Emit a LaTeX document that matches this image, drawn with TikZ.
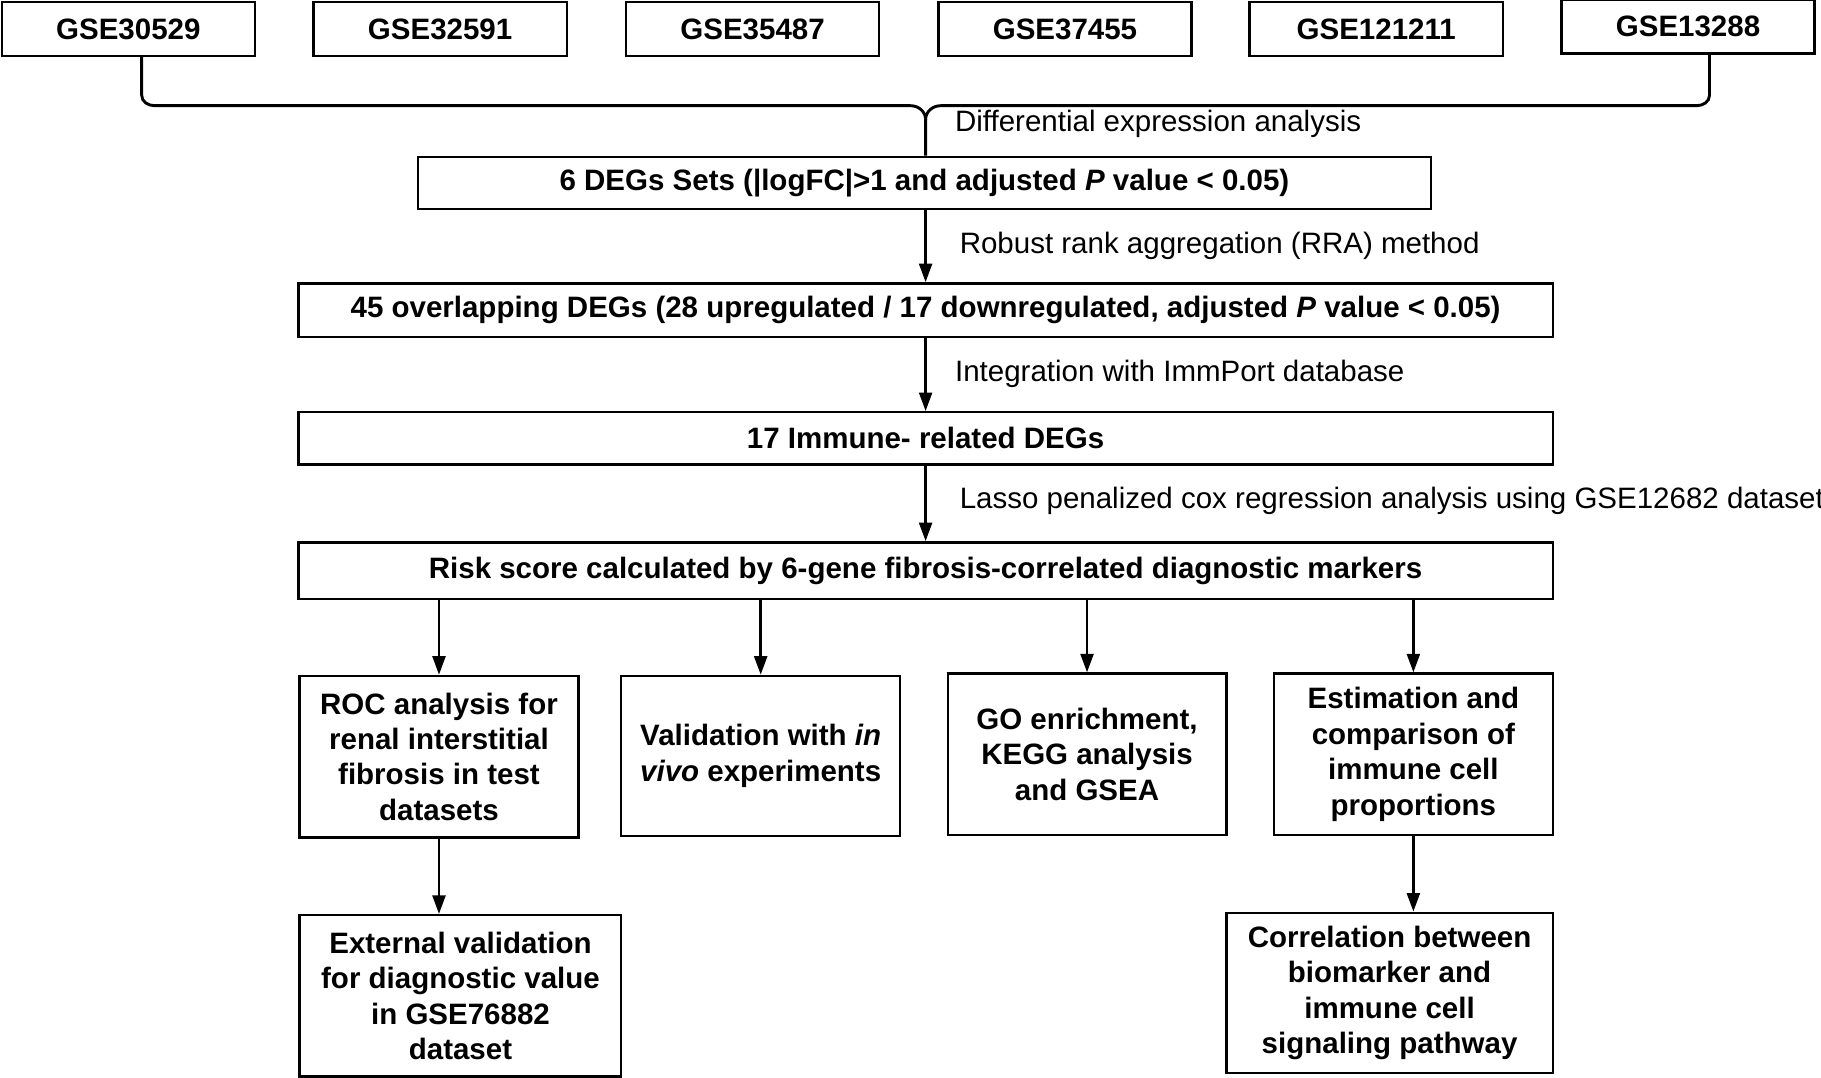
\documentclass[tikz,border=0pt]{standalone}
\usepackage{fontspec}
\setmainfont{Liberation Sans}
\usetikzlibrary{arrows.meta,calc}
\begin{document}
\begin{tikzpicture}[x=0.5pt,y=-0.5pt,
  box/.style={draw=black,line width=1pt,inner sep=0pt,align=center,font=\fontsize{12.7}{15.25}\selectfont\bfseries},
  lbl/.style={anchor=west,inner sep=0pt,font=\fontsize{12.7}{14}\selectfont},
  arr/.style={line width=1.25pt,-{Triangle[length=8pt,width=5.5pt]}},
  brace/.style={line width=1.25pt}]
\useasboundingbox (0,0) rectangle (1568,928);
% top boxes
\node[box,minimum width=109pt,minimum height=23pt] (g1) at (110.5,25) {GSE30529};
\node[box,minimum width=109pt,minimum height=23pt] (g2) at (379,25) {GSE32591};
\node[box,minimum width=109pt,minimum height=23pt] (g3) at (648,25) {GSE35487};
\node[box,minimum width=109pt,minimum height=23pt] (g4) at (917,25) {GSE37455};
\node[box,minimum width=109pt,minimum height=23pt] (g5) at (1185,25) {GSE121211};
\node[box,minimum width=109pt,minimum height=23pt] (g6) at (1453.5,23) {GSE13288};
% main chain
\node[box,minimum width=436pt,minimum height=22.5pt] (degs) at (796,157.5) {6 DEGs Sets (|logFC|>1 and adjusted \textit{P} value < 0.05)};
\node[box,minimum width=540pt,minimum height=23pt] (ov) at (797,267) {45 overlapping DEGs (28 upregulated / 17 downregulated, adjusted \textit{P} value < 0.05)};
\node[box,minimum width=540pt,minimum height=22.5pt] (imm) at (797,377.5) {17 Immune- related DEGs};
\node[box,minimum width=540pt,minimum height=24.5pt] (risk) at (797,491.5) {Risk score calculated by 6-gene fibrosis-correlated diagnostic markers};
% lower boxes
\node[box,minimum width=120pt,minimum height=69.5pt] (roc) at (378,651.5) {ROC analysis for\\renal interstitial\\fibrosis in test\\datasets};
\node[box,minimum width=120pt,minimum height=69pt] (val) at (655,651) {Validation with \textit{in}\\\textit{vivo} experiments};
\node[box,minimum width=120pt,minimum height=69.5pt] (go) at (936,649.5) {GO enrichment,\\KEGG analysis\\and GSEA};
\node[box,minimum width=120pt,minimum height=69.5pt] (est) at (1217,649.5) {Estimation and\\comparison of\\immune cell\\proportions};
\node[box,minimum width=138.5pt,minimum height=69.5pt] (ext) at (396.5,857.5) {External validation\\for diagnostic value\\in GSE76882\\dataset};
\node[box,minimum width=140.5pt,minimum height=69pt] (cor) at (1196.5,855) {Correlation between\\biomarker and\\immune cell\\signaling pathway};
% brace
\coordinate (cusp) at (797,103);
\draw[brace] ($(g1.south)+(11.5,0)$) -- (122,82) to[out=-90,in=180] (133,91) -- (784,91) to[out=0,in=90] (cusp) -- (degs.north -| cusp);
\draw[brace] ($(g6.south)+(18.5,0)$) -- (1472,82) to[out=-90,in=0] (1461,91) -- (810,91) to[out=180,in=90] (cusp);
% arrows
\draw[arr] (degs.south -| ov.north) -- (ov.north);
\draw[arr] (ov.south) -- (imm.north);
\draw[arr] (imm.south) -- (risk.north);
\draw[arr] (risk.south -| roc.north) -- (roc.north);
\draw[arr] (risk.south -| val.north) -- (val.north);
\draw[arr] (risk.south -| go.north) -- (go.north);
\draw[arr] (risk.south -| est.north) -- (est.north);
\draw[arr] (roc.south) -- (roc.south |- ext.north);
\draw[arr] (est.south) -- (est.south |- cor.north);
% labels
\node[lbl] (l1) at (822,107) {Differential expression analysis};
\node[lbl] (l2) at (826,212) {Robust rank aggregation (RRA) method};
\node[lbl] (l3) at (822,322) {Integration with ImmPort database};
\node[lbl] (l4) at (826,431) {Lasso penalized cox regression analysis using GSE12682 dataset};
\end{tikzpicture}
\end{document}
